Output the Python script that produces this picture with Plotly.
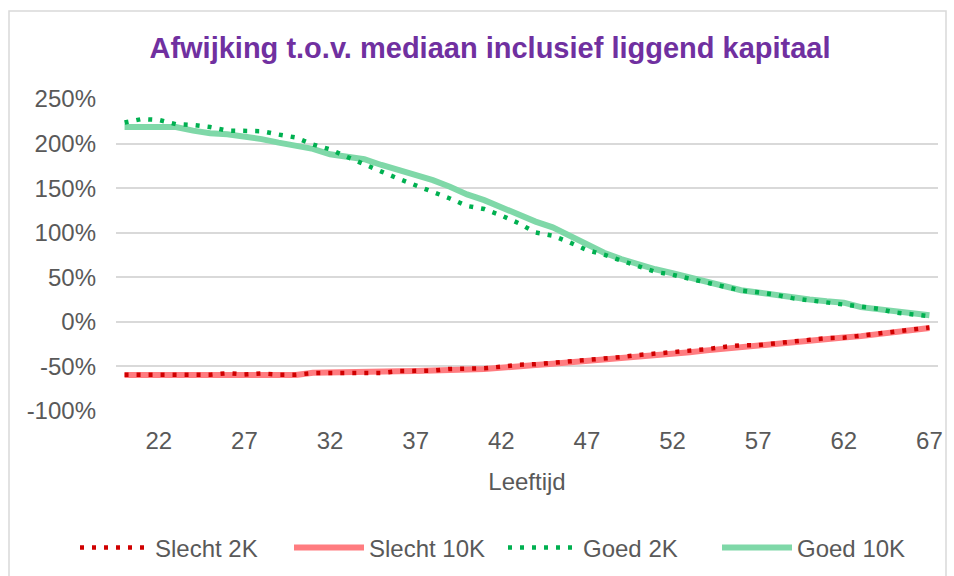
import plotly.graph_objects as go

ages = list(range(20, 68))

slecht_2k = [-59.2, -59.2, -59.2, -59.2, -59.2, -59.2, -57.6, -59.0, -57.8, -59.2,
             -59.2, -57.5, -57.3, -57.3, -57.3, -57.3, -55.2, -55.0, -54.7, -52.8,
             -52.5, -52.1, -50.2, -48.2, -47.5, -45.9, -44.2, -43.8, -41.5, -39.5,
             -37.2, -35.5, -34.8, -32.7, -30.7, -28.1, -26.3, -26.1, -24.0, -22.1,
             -20.0, -18.2, -17.7, -15.5, -13.4, -10.7, -8.9, -6.4]

slecht_10k = [-59.5, -59.5, -59.5, -59.5, -59.5, -59.5, -59.5, -59.5, -59.5, -59.5,
              -59.5, -57.0, -57.0, -57.0, -57.0, -57.0, -55.5, -55.0, -55.0, -54.0,
              -53.5, -53.0, -51.0, -49.5, -48.5, -47.0, -45.5, -44.5, -42.5, -40.5,
              -38.5, -37.0, -35.5, -34.0, -32.0, -30.0, -28.0, -26.5, -24.5, -22.5,
              -20.5, -19.0, -17.5, -16.0, -14.0, -11.5, -9.5, -7.0]

goed_2k = [223.6, 227.5, 226.5, 221.8, 220.8, 218.5, 214.6, 214.6, 213.9, 210.1,
           206.8, 199.0, 193.5, 185.0, 176.2, 168.6, 160.5, 153.5, 146.5, 138.4,
           130.0, 126.6, 119.3, 110.8, 100.2, 96.7, 89.0, 80.6, 75.3, 68.6,
           61.9, 56.0, 52.8, 48.5, 44.2, 39.7, 35.2, 33.1, 30.5, 26.6,
           24.0, 21.7, 19.8, 17.3, 14.6, 10.5, 8.4, 6.4]

goed_10k = [218.6, 218.6, 218.6, 218.6, 214.5, 211.5, 210.5, 208.0, 205.0, 201.0,
            197.5, 194.0, 188.0, 185.5, 182.5, 176.0, 170.0, 165.5, 159.0, 151.5,
            143.0, 136.5, 128.0, 120.5, 112.5, 106.0, 96.0, 86.5, 77.5, 70.5,
            64.0, 59.0, 54.5, 50.0, 45.0, 40.0, 35.5, 33.0, 30.0, 27.5,
            25.0, 23.0, 21.5, 16.5, 14.5, 12.0, 10.0, 7.5]

x_ticks = list(range(22, 68, 5))
y_ticks = list(range(-100, 251, 50))
y_tick_text = [f"{v}%" for v in y_ticks]

FONT = "Liberation Sans, Arial, sans-serif"
GREY = "#595959"

PLOT_BOTTOM = 411
PLOT_H = 312

fig = go.Figure()
fig.add_trace(go.Scatter(x=ages, y=slecht_10k, name="Slecht 10K", mode="lines",
                         line=dict(color="#FF7C80", width=6)))
fig.add_trace(go.Scatter(x=ages, y=goed_10k, name="Goed 10K", mode="lines",
                         line=dict(color="#7FD8A8", width=6)))
fig.add_trace(go.Scatter(x=ages, y=slecht_2k, name="Slecht 2K", mode="lines",
                         line=dict(color="#D00000", width=4.5, dash="4px,8px")))
fig.add_trace(go.Scatter(x=ages, y=goed_2k, name="Goed 2K", mode="lines",
                         line=dict(color="#00B050", width=4.5, dash="4px,8px")))

fig.update_layout(
    width=954, height=576,
    margin=dict(l=116, r=16, t=99, b=165, autoexpand=False),
    paper_bgcolor="white", plot_bgcolor="white",
    font=dict(family=FONT, size=24, color=GREY),
    title=dict(text="Afwijking t.o.v. mediaan inclusief liggend kapitaal",
               font=dict(family=FONT, size=29, color="#7030A0", weight=700),
               x=490 / 954, xanchor="center", xref="container",
               y=1 - 48 / 576, yanchor="middle", yref="container"),
    xaxis=dict(range=[19.5, 67.5], tickvals=x_ticks, showgrid=False,
               zeroline=False, showline=False, ticks="", automargin=False,
               ticklabelstandoff=13,
               title=dict(text="Leeftijd", standoff=20,
                          font=dict(size=24, color=GREY))),
    yaxis=dict(range=[-100, 250], tickvals=y_ticks, ticktext=y_tick_text,
               showgrid=True, gridcolor="#D9D9D9", gridwidth=1.5,
               zeroline=False, showline=False, ticks="", automargin=False,
               ticklabelstandoff=19),
    legend=dict(orientation="h", xref="paper", yref="paper",
                x=(75 - 116) / 822, xanchor="left",
                y=-(548 - PLOT_BOTTOM) / PLOT_H, yanchor="middle",
                traceorder="normal", itemwidth=70,
                entrywidth=129, entrywidthmode="pixels",
                font=dict(size=24, color=GREY), bgcolor="rgba(0,0,0,0)"),
    showlegend=True,
    shapes=[dict(type="rect", xref="paper", yref="paper",
                 x0=(9 - 116) / 822, x1=(946 - 116) / 822,
                 y0=(PLOT_BOTTOM - 590) / PLOT_H, y1=(PLOT_BOTTOM - 11) / PLOT_H,
                 line=dict(color="#D9D9D9", width=1.5), layer="below")],
)

order = ["Slecht 2K", "Slecht 10K", "Goed 2K", "Goed 10K"]
for tr in fig.data:
    tr.legendrank = order.index(tr.name) + 1

fig.write_html("out.html", config={"displayModeBar": False},
               post_script="document.body.style.margin='0';")
